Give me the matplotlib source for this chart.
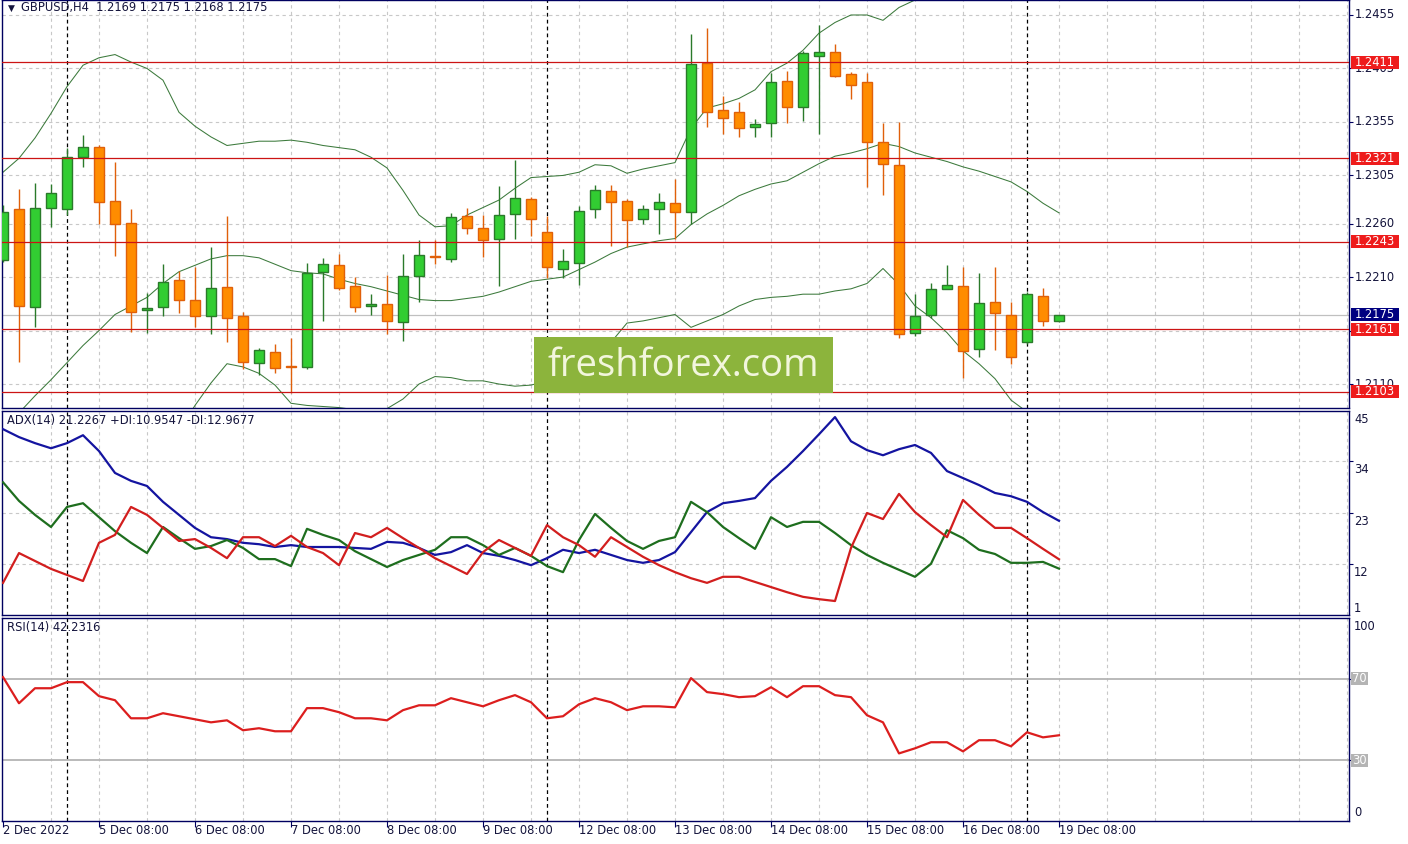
import matplotlib
matplotlib.use('Agg')
import matplotlib.pyplot as plt
from matplotlib.patches import Rectangle
from matplotlib.transforms import blended_transform_factory, ScaledTranslation

W, H, DPI = 1408, 844, 100

# ---------------- data ----------------
header = "GBPUSD,H4  1.2169 1.2175 1.2168 1.2175"
adx_title = "ADX(14) 21.2267 +DI:10.9547 -DI:12.9677"
rsi_title = "RSI(14) 42.2316"

opens = [1.2226, 1.2274, 1.2182, 1.2275, 1.2274, 1.2322, 1.2332, 1.2281, 1.2261, 1.2179,
         1.2182, 1.2207, 1.2189, 1.2174, 1.2201, 1.2174, 1.2130, 1.2140, 1.2127, 1.2126,
         1.2215, 1.2221, 1.2202, 1.2183, 1.2185, 1.2168, 1.2211, 1.2230, 1.2227, 1.2267,
         1.2256, 1.2246, 1.2269, 1.2283, 1.2252, 1.2218, 1.2223, 1.2274, 1.2290, 1.2281,
         1.2264, 1.2274, 1.2279, 1.2271, 1.2410, 1.2366, 1.2364, 1.2350, 1.2354, 1.2393,
         1.2369, 1.2417, 1.2420, 1.2400, 1.2392, 1.2336, 1.2315, 1.2158, 1.2175, 1.2199,
         1.2202, 1.2143, 1.2187, 1.2175, 1.2149, 1.2192, 1.2169]
highs = [1.2277, 1.2292, 1.2298, 1.2297, 1.2331, 1.2343, 1.2333, 1.2318, 1.2274, 1.2195,
         1.2222, 1.2216, 1.2219, 1.2238, 1.2267, 1.2177, 1.2144, 1.2147, 1.2153, 1.2223,
         1.2228, 1.2232, 1.2210, 1.2194, 1.2212, 1.2232, 1.2245, 1.2245, 1.2270, 1.2275,
         1.2268, 1.2295, 1.2319, 1.2285, 1.2267, 1.2236, 1.2276, 1.2296, 1.2296, 1.2283,
         1.2277, 1.2289, 1.2302, 1.2437, 1.2443, 1.2379, 1.2374, 1.2358, 1.2401, 1.2403,
         1.2421, 1.2446, 1.2428, 1.2402, 1.2401, 1.2354, 1.2355, 1.2194, 1.2204, 1.2221,
         1.2219, 1.2214, 1.2219, 1.2187, 1.2196, 1.2200, 1.2175]
lows = [1.2224, 1.2131, 1.2163, 1.2257, 1.2268, 1.2313, 1.2260, 1.2230, 1.2159, 1.2158,
        1.2174, 1.2176, 1.2163, 1.2157, 1.2149, 1.2124, 1.2118, 1.2120, 1.2102, 1.2124,
        1.2169, 1.2198, 1.2177, 1.2175, 1.2157, 1.2150, 1.2187, 1.2222, 1.2224, 1.2250,
        1.2229, 1.2202, 1.2246, 1.2248, 1.2209, 1.2209, 1.2203, 1.2265, 1.2239, 1.2238,
        1.2260, 1.2250, 1.2246, 1.2260, 1.2350, 1.2344, 1.2341, 1.2341, 1.2341, 1.2354,
        1.2356, 1.2344, 1.2397, 1.2376, 1.2294, 1.2287, 1.2153, 1.2155, 1.2172, 1.2199,
        1.2116, 1.2135, 1.2142, 1.2129, 1.2147, 1.2164, 1.2168]
closes = [1.2271, 1.2183, 1.2275, 1.2289, 1.2322, 1.2332, 1.2280, 1.2260, 1.2177, 1.2181,
          1.2205, 1.2189, 1.2174, 1.2200, 1.2172, 1.2131, 1.2142, 1.2125, 1.2126, 1.2214,
          1.2222, 1.2200, 1.2182, 1.2185, 1.2169, 1.2211, 1.2231, 1.2229, 1.2266, 1.2256,
          1.2245, 1.2268, 1.2284, 1.2264, 1.2219, 1.2225, 1.2272, 1.2291, 1.2280, 1.2263,
          1.2274, 1.2280, 1.2271, 1.2409, 1.2364, 1.2359, 1.2349, 1.2353, 1.2392, 1.2369,
          1.2419, 1.2420, 1.2398, 1.2390, 1.2336, 1.2316, 1.2157, 1.2174, 1.2199, 1.2203,
          1.2141, 1.2186, 1.2176, 1.2135, 1.2194, 1.2169, 1.2175]

bb_upper = [1.2308, 1.2321, 1.2340, 1.2363, 1.2388, 1.2408, 1.2415, 1.2418, 1.2411, 1.2405,
            1.2394, 1.2364, 1.2351, 1.2341, 1.2333, 1.2335, 1.2337, 1.2337, 1.2338, 1.2336,
            1.2333, 1.2331, 1.2329, 1.2322, 1.2312, 1.2291, 1.2268, 1.2257, 1.2258, 1.2268,
            1.2275, 1.2282, 1.2293, 1.2303, 1.2304, 1.2305, 1.2308, 1.2315, 1.2314, 1.2307,
            1.2311, 1.2314, 1.2317, 1.2349, 1.2368, 1.2372, 1.2377, 1.2385, 1.2402, 1.2410,
            1.2422, 1.2438, 1.2448, 1.2455, 1.2455, 1.2450, 1.2462, 1.2469, 1.2473, 1.2477,
            1.2485, 1.2490, 1.2494, 1.2503, 1.2495, 1.2487, 1.2477]
bb_middle = [1.2069, 1.2083, 1.2099, 1.2114, 1.2130, 1.2146, 1.2160, 1.2175, 1.2183, 1.2191,
             1.2204, 1.2215, 1.2221, 1.2227, 1.2230, 1.2230, 1.2228, 1.2222, 1.2216, 1.2214,
             1.2213, 1.2208, 1.2204, 1.2201, 1.2197, 1.2193, 1.2189, 1.2188, 1.2188, 1.2190,
             1.2192, 1.2196, 1.2201, 1.2206, 1.2208, 1.2210, 1.2217, 1.2224, 1.2232, 1.2238,
             1.2241, 1.2244, 1.2246, 1.2259, 1.2269, 1.2277, 1.2286, 1.2292, 1.2297, 1.2300,
             1.2308, 1.2316, 1.2323, 1.2326, 1.2330, 1.2335, 1.2332, 1.2326, 1.2322, 1.2318,
             1.2313, 1.2309, 1.2304, 1.2299, 1.2290, 1.2279, 1.2270]
bb_lower = [1.1830, 1.1845, 1.1858, 1.1865, 1.1872, 1.1884, 1.1905, 1.1932, 1.1955, 1.1977,
            1.2014, 1.2066, 1.2090, 1.2111, 1.2129, 1.2126, 1.2120, 1.2109, 1.2092, 1.2090,
            1.2089, 1.2088, 1.2086, 1.2085, 1.2087, 1.2096, 1.2110, 1.2117, 1.2116, 1.2113,
            1.2113, 1.2110, 1.2108, 1.2109, 1.2113, 1.2116, 1.2125, 1.2134, 1.2149, 1.2167,
            1.2169, 1.2172, 1.2175, 1.2163, 1.2169, 1.2175, 1.2183, 1.2189, 1.2191, 1.2192,
            1.2194, 1.2194, 1.2197, 1.2199, 1.2204, 1.2218, 1.2203, 1.2183, 1.2172, 1.2158,
            1.2141, 1.2129, 1.2115, 1.2095, 1.2084, 1.2072, 1.2062]

adx = [40.9, 39.2, 37.9, 36.8, 37.9, 39.6, 36.2, 31.5, 29.8, 28.7,
       25.3, 22.5, 19.7, 17.7, 17.3, 16.5, 16.2, 15.6, 16.0, 15.6,
       15.6, 15.6, 15.4, 15.2, 16.7, 16.5, 15.4, 13.9, 14.5, 16.0,
       14.3, 13.7, 12.8, 11.7, 13.2, 15.0, 14.3, 15.0, 13.9, 12.8,
       12.2, 12.8, 14.5, 18.8, 23.1, 25.0, 25.5, 26.1, 29.8, 32.8,
       36.2, 39.8, 43.5, 38.3, 36.4, 35.3, 36.6, 37.5, 35.8, 31.9,
       30.4, 28.9, 27.2, 26.5, 25.3, 23.1, 21.2267]
plus_di = [29.5, 25.5, 22.5, 19.9, 24.2, 25.0, 22.0, 19.0, 16.5, 14.3,
           19.9, 17.5, 15.2, 15.8, 17.1, 15.4, 13.0, 13.0, 11.5, 19.5,
           18.2, 17.1, 14.7, 13.0, 11.3, 12.8, 13.9, 15.0, 17.7, 17.7,
           16.0, 13.9, 15.4, 13.7, 11.5, 10.2, 17.1, 22.7, 19.7, 16.9,
           15.2, 16.9, 17.7, 25.3, 23.1, 19.9, 17.5, 15.2, 22.0, 19.9,
           21.0, 21.0, 18.6, 16.0, 13.9, 12.2, 10.7, 9.2, 12.0, 19.2,
           17.5, 15.0, 14.1, 12.2, 12.2, 12.4, 10.9547]
minus_di = [7.9, 14.3, 12.6, 10.9, 9.6, 8.3, 16.5, 18.2, 24.2, 22.5,
            19.7, 16.9, 17.3, 15.4, 13.2, 17.7, 17.7, 15.8, 18.0, 15.6,
            14.3, 11.7, 18.6, 17.7, 19.7, 17.5, 15.4, 13.2, 11.5, 9.8,
            14.5, 17.1, 15.4, 13.7, 20.3, 17.7, 16.0, 13.5, 17.7, 15.6,
            13.5, 11.7, 10.2, 8.9, 7.9, 9.2, 9.2, 8.1, 7.0, 5.9,
            4.9, 4.4, 4.0, 15.4, 22.9, 21.6, 27.0, 23.1, 20.3, 17.7,
            25.7, 22.5, 19.7, 19.7, 17.5, 15.2, 12.9677]
rsi = [70.9, 58.0, 65.4, 65.4, 68.4, 68.4, 61.5, 59.5, 50.6, 50.6,
       53.1, 51.6, 50.1, 48.6, 49.6, 44.7, 45.7, 44.2, 44.2, 55.6,
       55.6, 53.6, 50.6, 50.6, 49.6, 54.6, 57.0, 57.0, 60.5, 58.5,
       56.5, 59.5, 62.0, 58.5, 50.6, 51.6, 57.5, 60.5, 58.5, 54.6,
       56.5, 56.5, 56.0, 70.4, 63.5, 62.5, 61.0, 61.5, 65.9, 61.0,
       66.4, 66.4, 62.0, 61.0, 52.1, 48.6, 33.3, 35.8, 38.8, 38.8,
       34.3, 39.8, 39.8, 36.8, 43.7, 41.2, 42.2316]

levels = [1.2411, 1.2321, 1.2243, 1.2161, 1.2103]
bid = 1.2175
price_ticks = [1.2455, 1.2405, 1.2355, 1.2305, 1.2260, 1.2210, 1.2160, 1.2110]
adx_ticks = [45, 34, 23, 12, 1]
rsi_levels = [70, 30]
date_pos = [0, 6, 12, 18, 24, 30, 36, 42, 48, 54, 60, 66]
date_labels = ["2 Dec 2022", "5 Dec 08:00", "6 Dec 08:00", "7 Dec 08:00", "8 Dec 08:00",
               "9 Dec 08:00", "12 Dec 08:00", "13 Dec 08:00", "14 Dec 08:00",
               "15 Dec 08:00", "16 Dec 08:00", "19 Dec 08:00"]
separators = [4, 34, 64]
watermark = "freshforex.com"

# ---------------- style ----------------
NAVY = '#000060'
TXT = '#14143c'
GRID = '#c8c8c8'
BULL_FILL, BULL_EDGE = '#32cd32', '#2a7a2a'
BEAR_FILL, BEAR_EDGE = '#ff8c00', '#e0600a'
BAND = '#3c7a3c'
LEVEL = '#cc1414'
LBOX = '#ee1c1c'
FS = 8.3
plt.rcParams['font.family'] = ['DejaVu Sans']

fig = plt.figure(figsize=(W / DPI, H / DPI), dpi=DPI)
fig.patch.set_facecolor('white')


def px_axes(left, top, right, bottom):
    return fig.add_axes([left / W, 1 - bottom / H, (right - left) / W, (bottom - top) / H])


n = len(closes)
xs = list(range(n))
XMIN, XMAX = -0.0625, 84.125
LABEL_X = 1355 / W

ax_p = px_axes(2, 0, 1349, 408)
ax_a = px_axes(2, 411, 1349, 615)
ax_r = px_axes(2, 618, 1349, 821)

for ax in (ax_p, ax_a, ax_r):
    ax.set_xlim(XMIN, XMAX)
    for s in ax.spines.values():
        s.set_color(NAVY)
        s.set_linewidth(1.0)
    ax.set_xticks([])
    ax.tick_params(axis='y', which='both', left=False, labelleft=False, right=True,
                   labelright=False, direction='out', length=3, color=NAVY, width=0.8)
    for g in range(3, 85, 3):
        ax.axvline(g, color=GRID, lw=0.8, ls=(0, (3, 3)), zorder=0)
    for sx in separators:
        ax.axvline(sx, color='black', lw=0.9, ls=(0, (3, 2.5)), zorder=1)

# ---------------- price panel ----------------
ax_p.set_ylim(1.20876, 1.24690)
ax_p.set_yticks(price_ticks)
for t in price_ticks:
    ax_p.axhline(t, color=GRID, lw=0.8, ls=(0, (3, 3)), zorder=0)
ax_p.axhline(bid, color='#c0c0c0', lw=0.9, zorder=0.5)

ax_p.plot(xs, bb_upper, color=BAND, lw=0.75, zorder=2)
ax_p.plot(xs, bb_middle, color=BAND, lw=0.75, zorder=2)
ax_p.plot(xs, bb_lower, color=BAND, lw=0.75, zorder=2)

for i in xs:
    o, h, l, c = opens[i], highs[i], lows[i], closes[i]
    bull = c >= o
    wick = BULL_EDGE if bull else BEAR_EDGE
    ax_p.vlines(i, l, h, color=wick, lw=1.0, zorder=3)
    ax_p.bar(i, c - o, bottom=o, width=0.62, color=BULL_FILL if bull else BEAR_FILL,
             edgecolor=BULL_EDGE if bull else BEAR_EDGE, linewidth=1.0, zorder=4)

for lv in levels:
    ax_p.axhline(lv, color=LEVEL, lw=0.9, zorder=5)

tp = blended_transform_factory(fig.transFigure, ax_p.transData)
for t in price_ticks:
    ax_p.text(LABEL_X, t, f"{t:.4f}", transform=tp, fontsize=FS, color=TXT,
              va='center', ha='left', clip_on=False, zorder=6)
half = 6.5 / 10697
for lv, col in [(v, LBOX) for v in levels] + [(bid, '#000080')]:
    ax_p.add_patch(Rectangle((1351 / W, lv - half), 48 / W, 2 * half, transform=tp,
                             facecolor=col, edgecolor='none', clip_on=False, zorder=7))
    ax_p.text(LABEL_X, lv, f"{lv:.4f}", transform=tp, fontsize=FS, color='white',
              va='center', ha='left', clip_on=False, zorder=8)

fig.text(8 / W, 1 - 8 / H, "\u25BC", fontsize=6.5, color=TXT, va='center', ha='left')
fig.text(21 / W, 1 - 8 / H, header, fontsize=FS, color=TXT, va='center', ha='left')

# watermark
fig.patches.append(Rectangle((534 / W, 1 - 393 / H), 299 / W, 56 / H, transform=fig.transFigure,
                             facecolor='#8cb43c', edgecolor='none', zorder=10))
fig.text(683 / W, 1 - 366 / H, watermark, fontsize=27.5, family='Open Sans',
         color='#f2f6dc', ha='center', va='center', zorder=11)

# ---------------- ADX panel ----------------
ax_a.set_ylim(1, 44.8)
ax_a.set_yticks([34, 23, 12])
for t in [34, 23, 12]:
    ax_a.axhline(t, color=GRID, lw=0.8, ls=(0, (3, 3)), zorder=0)
ax_a.plot(xs, adx, color='#1414a0', lw=1.6, zorder=3)
ax_a.plot(xs, plus_di, color='#1e6e1e', lw=1.6, zorder=3)
ax_a.plot(xs, minus_di, color='#d21e1e', lw=1.6, zorder=3)
ta = blended_transform_factory(fig.transFigure, ax_a.transData)
for t in adx_ticks:
    if t == 1:
        off = ScaledTranslation(0, 7 / DPI, fig.dpi_scale_trans)
        va = 'center'
    else:
        off = ScaledTranslation(0, -2 / DPI, fig.dpi_scale_trans)
        va = 'top'
    ax_a.text(LABEL_X - 1 / W, min(t, 44.8), str(t), transform=ta + off, fontsize=FS,
              color=TXT, va=va, ha='left', clip_on=False)
ax_a.text(7 / W, 1 - 421 / H, adx_title, transform=fig.transFigure, fontsize=FS,
          color=TXT, va='center', ha='left')

# ---------------- RSI panel ----------------
ax_r.set_ylim(0, 100)
ax_r.set_yticks([70, 30])
for lv in rsi_levels:
    ax_r.axhline(lv, color='#b4b4b4', lw=1.3, zorder=1)
ax_r.plot(xs, rsi, color='#dc1e1e', lw=1.6, zorder=3)
tr = blended_transform_factory(fig.transFigure, ax_r.transData)
ax_r.text(LABEL_X - 1 / W, 100, "100", transform=tr + ScaledTranslation(0, -2 / DPI, fig.dpi_scale_trans),
          fontsize=FS, color=TXT, va='top', ha='left', clip_on=False)
ax_r.text(LABEL_X - 1 / W, 0, "0", transform=tr + ScaledTranslation(0, 8 / DPI, fig.dpi_scale_trans),
          fontsize=FS, color=TXT, va='center', ha='left', clip_on=False)
rh = 6.5 / 2.03
for lv in rsi_levels:
    ax_r.add_patch(Rectangle((1351 / W, lv - rh), 17 / W, 2 * rh, transform=tr,
                             facecolor='#b4b4b4', edgecolor='none', clip_on=False, zorder=7))
    ax_r.text(1352 / W, lv, str(lv), transform=tr, fontsize=FS, color='white',
              va='center', ha='left', clip_on=False, zorder=8)
ax_r.text(7 / W, 1 - 628 / H, rsi_title, transform=fig.transFigure, fontsize=FS,
          color=TXT, va='center', ha='left')

# x axis labels
ax_r.set_xticks(date_pos)
ax_r.tick_params(axis='x', bottom=True, direction='out', length=4, color=NAVY, labelbottom=False)
tx = blended_transform_factory(ax_r.transData, fig.transFigure)
for p, lab in zip(date_pos, date_labels):
    ax_r.text(p, 1 - 831 / H, lab, transform=tx, fontsize=FS, color=TXT,
              va='center', ha='left', clip_on=False)

fig.savefig('out.png', dpi=DPI, facecolor='white')
